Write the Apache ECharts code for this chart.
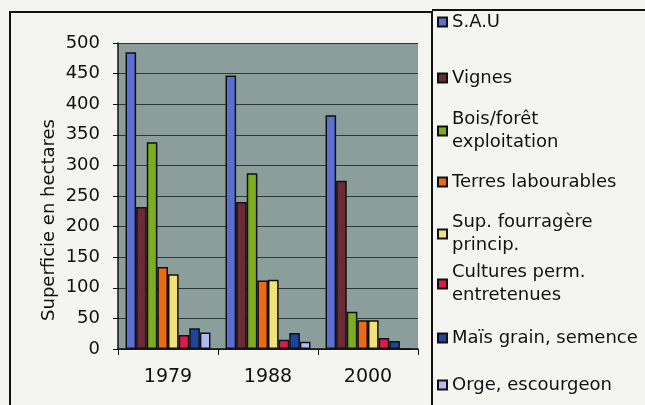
<!DOCTYPE html>
<html>
<head>
<meta charset="utf-8">
<script src="https://cdn.jsdelivr.net/npm/echarts@6/dist/echarts.min.js"></script>
<style>
  html, body { margin: 0; padding: 0; background: #f4f4f1; }
  #chart { width: 645px; height: 405px; }
</style>
</head>
<body>
<div id="chart"></div>
<script>
  // années (catégories)
  var years = ["1979", "1988", "2000"];
  // noms des séries (légende)
  var names = [
    "S.A.U",
    "Vignes",
    "Bois/forêt\nexploitation",
    "Terres labourables",
    "Sup. fourragère\nprincip.",
    "Cultures perm.\nentretenues",
    "Maïs grain, semence",
    "Orge, escourgeon"
  ];
  var colors = ["#5b6fd2", "#6c2a36", "#7dad1f", "#ee6a12", "#f3e27a", "#dd1a4a", "#1c45a0", "#b3baf0"];
  // superficie en hectares, par série : [1979, 1988, 2000]
  var sau = [485, 447, 382];
  var vignes = [232, 240, 275];
  var bois = [338, 287, 61];
  var terres = [134, 112, 47];
  var fourrage = [122, 113, 47];
  var cultures = [23, 15, 18];
  var mais = [34, 26, 13];
  var orge = [27, 12, 0];
  var values = [sau, vignes, bois, terres, fourrage, cultures, mais, orge];
  // centre vertical de chaque entrée de légende
  var legendY = [22, 78, 131, 182, 234, 284, 338, 385];

  var chart = echarts.init(document.getElementById("chart"));

  var legends = names.map(function (n, i) {
    var multi = n.indexOf("\n") >= 0;
    return {
      data: [n],
      left: 437,
      top: legendY[i] - (multi ? 34.5 : 11.5),
      orient: "vertical",
      padding: 0,
      itemWidth: 9,
      itemHeight: 9,
      itemGap: 0,
      icon: "rect",
      selectedMode: false,
      textStyle: {
        fontFamily: "DejaVu Sans",
        fontSize: 18,
        color: "#111",
        lineHeight: 23,
        padding: multi ? [23, 0, 0, 0] : 0
      }
    };
  });

  chart.setOption({
    animation: false,
    backgroundColor: "#f4f4f1",
    graphic: [
      { type: "rect", shape: { x: 10, y: 12, width: 422, height: 420 }, style: { fill: "none", stroke: "#111", lineWidth: 2 } },
      { type: "line", shape: { x1: 432, y1: 10, x2: 650, y2: 10 }, style: { stroke: "#111", lineWidth: 2 } }
    ],
    legend: legends,
    grid: {
      left: 118,
      right: 227,
      top: 43,
      bottom: 56,
      show: true,
      backgroundColor: "#8b9e9b",
      borderWidth: 0
    },
    xAxis: {
      type: "category",
      data: years,
      axisLine: { lineStyle: { color: "#111", width: 1.5 } },
      axisTick: { show: true, length: 6, lineStyle: { color: "#111" } },
      axisLabel: { fontFamily: "DejaVu Sans", fontSize: 19, color: "#111", margin: 19 }
    },
    yAxis: {
      type: "value",
      min: 0,
      max: 500,
      interval: 50,
      name: "Superficie en hectares",
      nameLocation: "middle",
      nameGap: 60,
      nameTextStyle: { fontFamily: "DejaVu Sans", fontSize: 18, color: "#111", padding: [0, 48, 0, 0] },
      axisLine: { show: true, lineStyle: { color: "#111", width: 1.5 } },
      axisTick: { show: true, length: 5, lineStyle: { color: "#111" } },
      axisLabel: { fontFamily: "DejaVu Sans", fontSize: 18, color: "#111", margin: 18 },
      splitLine: { lineStyle: { color: "#2b3837", width: 1 } }
    },
    series: names.map(function (n, i) {
      return {
        name: n,
        type: "bar",
        data: values[i],
        barGap: "0%",
        barCategoryGap: "15%",
        itemStyle: { color: colors[i], borderColor: "#111", borderWidth: 1.5 }
      };
    })
  });
</script>
</body>
</html>
